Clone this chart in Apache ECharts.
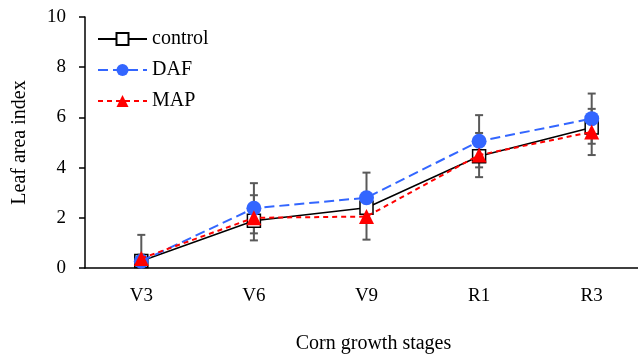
<!DOCTYPE html>
<html>
<head>
<meta charset="utf-8">
<script src="https://cdn.jsdelivr.net/npm/echarts@6/dist/echarts.min.js"></script>
<style>
  html, body { margin: 0; padding: 0; background: #fff; }
  #chart { width: 638px; height: 356px; }
</style>
</head>
<body>
<div id="chart"></div>
<script>
const stages = ['V3', 'V6', 'V9', 'R1', 'R3'];
const controlVals = [0.28, 1.88, 2.4, 4.45, 5.6];
const dafVals = [0.27, 2.38, 2.8, 5.05, 5.95];
const mapVals = [0.38, 2.0, 2.05, 4.5, 5.42];
const dafErr = [1.05, 1.0, 1.0, 1.04, 1.0];
const mapErr = [0.15, 0.9, 0.92, 0.88, 0.92];
const yTicks = [0, 2, 4, 6, 8, 10];

const font = '"Liberation Serif", "Times New Roman", serif';

function errorSeries(vals, errs) {
  return {
    type: 'custom',
    silent: true,
    z: 1,
    clip: true,
    data: vals.map((v, i) => [i, v - errs[i], v + errs[i]]),
    renderItem: (params, api) => {
      const lo = api.coord([api.value(0), api.value(1)]);
      const hi = api.coord([api.value(0), api.value(2)]);
      const w = 4;
      const style = { stroke: '#595959', lineWidth: 2 };
      return {
        type: 'group',
        children: [
          { type: 'line', shape: { x1: hi[0], y1: hi[1], x2: lo[0], y2: lo[1] }, style },
          { type: 'line', shape: { x1: hi[0] - w, y1: hi[1], x2: hi[0] + w, y2: hi[1] }, style },
          { type: 'line', shape: { x1: lo[0] - w, y1: lo[1], x2: lo[0] + w, y2: lo[1] }, style }
        ]
      };
    }
  };
}

const chart = echarts.init(document.getElementById('chart'));
chart.setOption({
  animation: false,
  backgroundColor: '#fff',
  textStyle: { fontFamily: font },
  grid: { left: 85, top: 17, bottom: 88, width: 563, outerBoundsMode: 'none' },
  legend: {
    orient: 'vertical',
    left: 92,
    top: 24,
    itemWidth: 49,
    itemHeight: 15,
    itemGap: 11,
    textStyle: { fontFamily: font, fontSize: 20, color: '#000' },
    data: ['control', 'DAF', 'MAP']
  },
  xAxis: {
    type: 'category',
    data: stages,
    boundaryGap: true,
    name: 'Corn growth stages',
    nameLocation: 'middle',
    nameGap: 66,
    nameTextStyle: { fontFamily: font, fontSize: 20, color: '#000', padding: [0, 0, 0, 14] },
    axisLine: { lineStyle: { color: '#000', width: 1.5 } },
    axisTick: { alignWithLabel: false, length: 6, lineStyle: { color: '#000', width: 1.5 } },
    axisLabel: { fontFamily: font, fontSize: 19, color: '#000', margin: 19 },
    splitLine: { show: false }
  },
  yAxis: {
    type: 'value',
    min: 0,
    max: 10,
    interval: 2,
    name: 'Leaf area index',
    nameLocation: 'middle',
    nameGap: 55,
    nameTextStyle: { fontFamily: font, fontSize: 20, color: '#000' },
    axisLine: { show: true, lineStyle: { color: '#000', width: 1.5 } },
    axisTick: { show: true, length: 6, lineStyle: { color: '#000', width: 1.5 } },
    axisLabel: {
      fontFamily: font, fontSize: 19, color: '#000', margin: 19,
      formatter: v => (yTicks.includes(v) ? String(v) : '')
    },
    splitLine: { show: false }
  },
  series: [
    errorSeries(dafVals, dafErr),
    errorSeries(mapVals, mapErr),
    {
      name: 'control',
      type: 'line',
      z: 3,
      data: controlVals,
      symbol: 'rect',
      symbolSize: 13,
      lineStyle: { color: '#000', width: 1.5 },
      itemStyle: { color: '#fff', borderColor: '#000', borderWidth: 1.5 }
    },
    {
      name: 'DAF',
      type: 'line',
      z: 4,
      data: dafVals,
      symbol: 'circle',
      symbolSize: 15,
      lineStyle: { color: '#3366ff', width: 2, type: [10, 5] },
      itemStyle: { color: '#3366ff', borderWidth: 0 }
    },
    {
      name: 'MAP',
      type: 'line',
      z: 5,
      data: mapVals,
      symbol: 'triangle',
      symbolSize: 15,
      lineStyle: { color: '#ff0000', width: 2, type: [5, 4] },
      itemStyle: { color: '#ff0000', borderWidth: 0 }
    }
  ]
});
</script>
</body>
</html>
